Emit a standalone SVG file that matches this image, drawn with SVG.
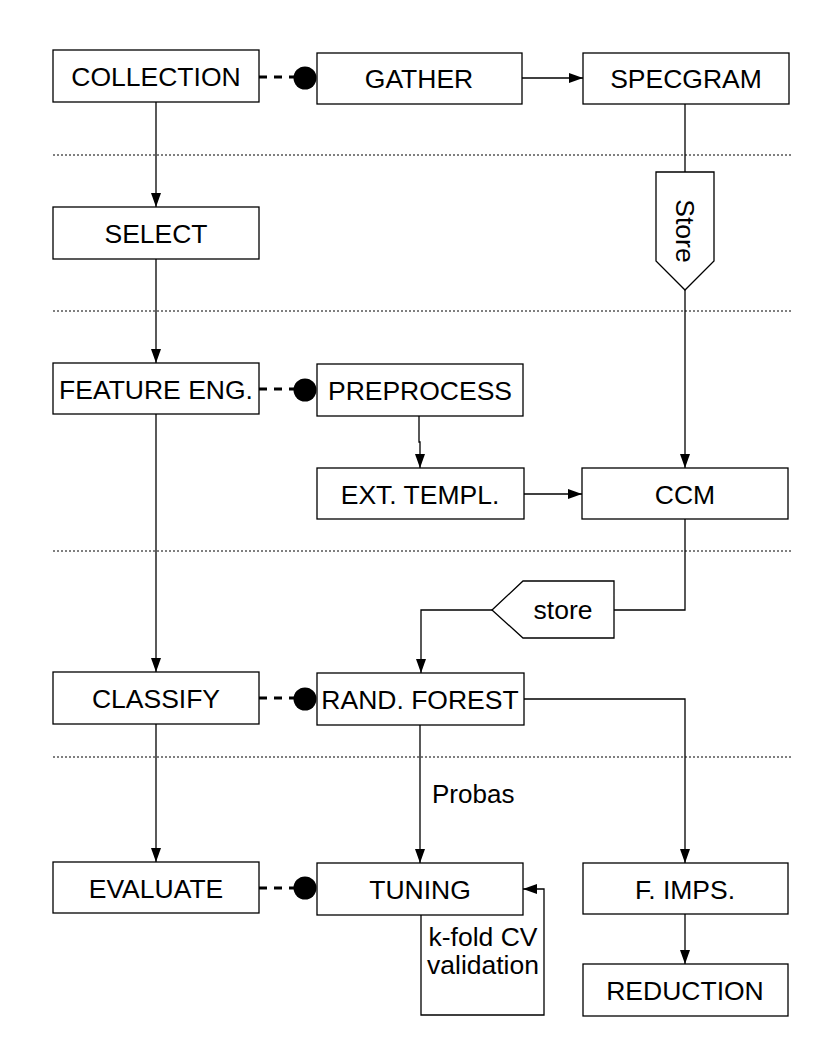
<svg xmlns="http://www.w3.org/2000/svg" width="816" height="1056" viewBox="0 0 816 1056">
<style>
.box{fill:#fff;stroke:#000;stroke-width:1.3}
.t{font-family:"Liberation Sans",Arial,sans-serif;font-size:26.5px;fill:#000;text-anchor:middle}
.lbl{font-family:"Liberation Sans",Arial,sans-serif;font-size:26px;fill:#000}
.c{fill:none;stroke:#000;stroke-width:1.3}
.dash{fill:none;stroke:#000;stroke-width:3;stroke-dasharray:8,7}
.sep{fill:none;stroke:#000;stroke-width:1;stroke-dasharray:2,2}
</style>
<defs>
<marker id="ah" viewBox="0 0 14 10" refX="14" refY="5" markerWidth="14" markerHeight="10" markerUnits="userSpaceOnUse" orient="auto">
<path d="M0,0 L14,5 L0,10 Z" fill="#000"/>
</marker>
</defs>
<rect width="816" height="1056" fill="#fff"/>
<g id="separators">
<line class="sep" x1="53" y1="155" x2="793" y2="155"/>
<line class="sep" x1="53" y1="311" x2="793" y2="311"/>
<line class="sep" x1="53" y1="551" x2="793" y2="551"/>
<line class="sep" x1="53" y1="757" x2="793" y2="757"/>
</g>
<g id="connectors">
<line class="c" x1="156" y1="102" x2="156" y2="207" marker-end="url(#ah)"/>
<line class="c" x1="156" y1="259" x2="156" y2="363" marker-end="url(#ah)"/>
<line class="c" x1="156" y1="414" x2="156" y2="672" marker-end="url(#ah)"/>
<line class="c" x1="156" y1="724" x2="156" y2="862" marker-end="url(#ah)"/>
<line class="c" x1="522" y1="78" x2="583" y2="78" marker-end="url(#ah)"/>
<line class="c" x1="685" y1="104" x2="685" y2="172"/>
<line class="c" x1="685" y1="290" x2="685" y2="468" marker-end="url(#ah)"/>
<polyline class="c" points="419,416 419,442 420,442 420,468" marker-end="url(#ah)"/>
<line class="c" x1="524" y1="494" x2="582" y2="494" marker-end="url(#ah)"/>
<polyline class="c" points="685,519 685,610 614,610"/>
<polyline class="c" points="492,610 421,610 421,673" marker-end="url(#ah)"/>
<polyline class="c" points="524,699 685,699 685,863" marker-end="url(#ah)"/>
<line class="c" x1="420" y1="725" x2="420" y2="863" marker-end="url(#ah)"/>
<polyline class="c" points="421,915 421,1015 544,1015 544,889 523,889" marker-end="url(#ah)"/>
<line class="c" x1="685" y1="914" x2="685" y2="964" marker-end="url(#ah)"/>
<line class="dash" x1="259" y1="77" x2="300" y2="77"/>
<circle cx="305" cy="78" r="11.5" fill="#000"/>
<line class="dash" x1="259" y1="389" x2="300" y2="389"/>
<circle cx="305" cy="390" r="11.5" fill="#000"/>
<line class="dash" x1="259" y1="698" x2="300" y2="698"/>
<circle cx="305" cy="699" r="11.5" fill="#000"/>
<line class="dash" x1="259" y1="888" x2="300" y2="888"/>
<circle cx="305" cy="888" r="11.5" fill="#000"/>
<text class="lbl" x="432" y="803">Probas</text>
<text class="t" x="483" y="946">k-fold CV</text>
<text class="t" x="483" y="974">validation</text>
</g>
<g id="collection"><rect class="box" x="53" y="50" width="206" height="52"/><text class="t" x="156" y="85.5">COLLECTION</text></g>
<g id="gather"><rect class="box" x="317" y="53" width="205" height="51"/><text class="t" x="419" y="88">GATHER</text></g>
<g id="specgram"><rect class="box" x="583" y="53" width="206" height="51"/><text class="t" x="686" y="88">SPECGRAM</text></g>
<g id="store1"><path class="box" d="M656,172 L714,172 L714,261 L685,290 L656,261 Z"/><text class="t" transform="translate(676,231) rotate(90)">Store</text></g>
<g id="select"><rect class="box" x="53" y="207" width="206" height="52"/><text class="t" x="156" y="242.5">SELECT</text></g>
<g id="feature"><rect class="box" x="53" y="363" width="206" height="51"/><text class="t" x="156" y="398.5">FEATURE ENG.</text></g>
<g id="preprocess"><rect class="box" x="317" y="364" width="206" height="52"/><text class="t" x="420" y="399.5">PREPROCESS</text></g>
<g id="exttempl"><rect class="box" x="317" y="468" width="207" height="51"/><text class="t" x="420" y="503.5">EXT. TEMPL.</text></g>
<g id="ccm"><rect class="box" x="582" y="468" width="206" height="51"/><text class="t" x="685" y="503.5">CCM</text></g>
<g id="store2"><path class="box" d="M523,581 L614,581 L614,638 L523,638 L492,610 Z"/><text class="t" x="563" y="619">store</text></g>
<g id="classify"><rect class="box" x="53" y="672" width="206" height="52"/><text class="t" x="156" y="707.5">CLASSIFY</text></g>
<g id="randforest"><rect class="box" x="317" y="673" width="207" height="52"/><text class="t" x="420" y="708.5">RAND. FOREST</text></g>
<g id="evaluate"><rect class="box" x="53" y="862" width="206" height="51"/><text class="t" x="156" y="897.5">EVALUATE</text></g>
<g id="tuning"><rect class="box" x="317" y="863" width="206" height="52"/><text class="t" x="420" y="898.5">TUNING</text></g>
<g id="fimps"><rect class="box" x="583" y="863" width="205" height="51"/><text class="t" x="685" y="898.5">F. IMPS.</text></g>
<g id="reduction"><rect class="box" x="583" y="964" width="205" height="52"/><text class="t" x="685" y="999.5">REDUCTION</text></g>
</svg>
